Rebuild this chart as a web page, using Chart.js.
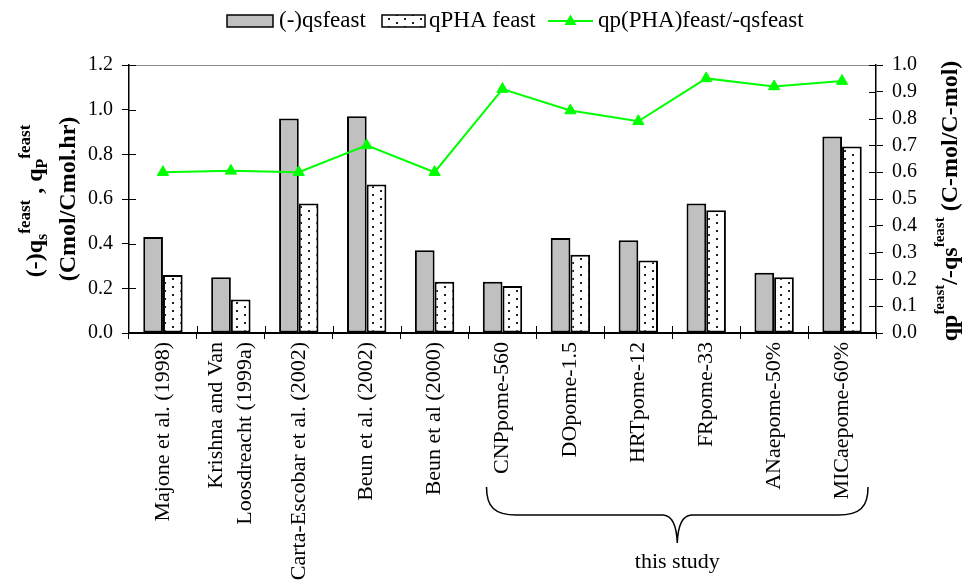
<!DOCTYPE html>
<html>
<head>
<meta charset="utf-8">
<script src="https://cdn.jsdelivr.net/npm/chart.js@4"></script>
<style>
  html, body { margin: 0; padding: 0; background: #fff; }
  #wrap { width: 964px; height: 580px; position: relative; }
</style>
</head>
<body>
<div id="wrap"><canvas id="c" width="964" height="580"></canvas></div>
<script>
// Categories (multi-line labels as arrays)
const categories = [
  ["Majone et al. (1998)"],
  ["Krishna and Van", "Loosdreacht (1999a)"],
  ["Carta-Escobar et al. (2002)"],
  ["Beun et al. (2002)"],
  ["Beun et al (2000)"],
  ["CNPpome-560"],
  ["DOpome-1.5"],
  ["HRTpome-12"],
  ["FRpome-33"],
  ["ANaepome-50%"],
  ["MICaepome-60%"]
];

// Specific uptake rate of substrate, Cmol/Cmol.hr
const qsFeast = [0.43, 0.25, 0.96, 0.97, 0.37, 0.23, 0.425, 0.415, 0.58, 0.27, 0.88];
// Specific PHA production rate, Cmol/Cmol.hr
const qphaFeast = [0.26, 0.15, 0.58, 0.665, 0.23, 0.21, 0.35, 0.325, 0.55, 0.25, 0.835];
// Yield qp/-qs, C-mol/C-mol
const yieldRatio = [0.60, 0.605, 0.60, 0.70, 0.60, 0.91, 0.83, 0.79, 0.95, 0.92, 0.94];

const leftTicks = [0, 0.2, 0.4, 0.6, 0.8, 1.0, 1.2];
const rightTicks = [0, 0.1, 0.2, 0.3, 0.4, 0.5, 0.6, 0.7, 0.8, 0.9, 1.0];

const seriesNames = ["(-)qsfeast", "qPHA feast", "qp(PHA)feast/-qsfeast"];
const studyGroupLabel = "this study";
const studyGroupRange = [5, 10];

const SERIF = '"Liberation Serif", "Times New Roman", serif';
const GREEN = '#00ff00';
const GREY = '#c0c0c0';

// Stippled fill for the PHA bars
function makeDotPattern() {
  const off = document.createElement('canvas');
  off.width = 16; off.height = 8;
  const g = off.getContext('2d');
  g.fillStyle = '#ffffff';
  g.fillRect(0, 0, 16, 8);
  g.fillStyle = '#222222';
  g.fillRect(4, 2, 2, 2);
  g.fillRect(12, 6, 2, 2);
  return document.getElementById('c').getContext('2d').createPattern(off, 'repeat');
}
const dotPattern = makeDotPattern();

// Draw a line of text made of groups; pieces in a group share a start position
function drawRich(ctx, groups, cx, baseY) {
  let total = 0;
  const widths = groups.map(g => {
    let w = 0;
    g.pieces.forEach(p => {
      ctx.font = 'bold ' + p.size + 'px ' + SERIF;
      w = Math.max(w, ctx.measureText(p.t).width);
    });
    w += (g.gap || 0);
    total += w;
    return w;
  });
  let x = cx - total / 2;
  groups.forEach((g, i) => {
    g.pieces.forEach(p => {
      ctx.font = 'bold ' + p.size + 'px ' + SERIF;
      ctx.fillText(p.t, x, baseY + (p.dy || 0));
    });
    x += widths[i];
  });
}

const decorations = {
  id: 'decorations',
  afterDraw(chart) {
    const ctx = chart.ctx;
    const ca = chart.chartArea;
    const xs = chart.scales.x, yl = chart.scales.y, yr = chart.scales.y1;
    ctx.save();

    // top frame line
    ctx.strokeStyle = '#8c8c8c';
    ctx.lineWidth = 1;
    ctx.beginPath();
    ctx.moveTo(ca.left, ca.top + 0.5);
    ctx.lineTo(ca.right, ca.top + 0.5);
    ctx.stroke();

    // inner halves of the tick marks
    ctx.strokeStyle = '#000';
    ctx.lineWidth = 1;
    ctx.beginPath();
    leftTicks.forEach(v => {
      const y = Math.round(yl.getPixelForValue(v)) + 0.5;
      ctx.moveTo(ca.left, y); ctx.lineTo(ca.left + 7, y);
    });
    rightTicks.forEach(v => {
      const y = Math.round(yr.getPixelForValue(v)) + 0.5;
      ctx.moveTo(ca.right - 7, y); ctx.lineTo(ca.right, y);
    });
    for (let i = 1; i < categories.length; i++) {
      const x = Math.round((xs.getPixelForValue(i - 1) + xs.getPixelForValue(i)) / 2) + 0.5;
      ctx.moveTo(x, ca.bottom - 7); ctx.lineTo(x, ca.bottom);
    }
    ctx.stroke();

    // category labels, rotated
    ctx.fillStyle = '#000';
    ctx.font = '22px ' + SERIF;
    ctx.textAlign = 'right';
    ctx.textBaseline = 'middle';
    categories.forEach((lines, i) => {
      const px = xs.getPixelForValue(i);
      ctx.save();
      ctx.translate(px, ca.bottom + 9);
      ctx.rotate(-Math.PI / 2);
      lines.forEach((ln, j) => ctx.fillText(ln, 0, (j - (lines.length - 1) / 2) * 29));
      ctx.restore();
    });

    // brace over the study group
    const L = xs.getPixelForValue(studyGroupRange[0]) - 16;
    const R = xs.getPixelForValue(studyGroupRange[1]) + 26;
    const M = (L + R) / 2;
    const yTop = 487, yMid = 515, yTip = 543;
    ctx.strokeStyle = '#000';
    ctx.lineWidth = 1.5;
    ctx.beginPath();
    ctx.moveTo(L, yTop);
    ctx.bezierCurveTo(L, yTop + 20, L + 8, yMid, L + 30, yMid);
    ctx.lineTo(M - 14, yMid);
    ctx.quadraticCurveTo(M - 1, yMid + 1, M, yTip);
    ctx.quadraticCurveTo(M + 1, yMid + 1, M + 14, yMid);
    ctx.lineTo(R - 30, yMid);
    ctx.bezierCurveTo(R - 8, yMid, R, yTop + 20, R, yTop);
    ctx.stroke();
    ctx.textAlign = 'center';
    ctx.textBaseline = 'alphabetic';
    ctx.font = '22px ' + SERIF;
    ctx.fillText(studyGroupLabel, M, 568);

    // legend
    ctx.textAlign = 'left';
    ctx.textBaseline = 'middle';
    ctx.font = '23px ' + SERIF;
    ctx.lineWidth = 1.5;
    ctx.strokeStyle = '#000';
    ctx.fillStyle = GREY;
    ctx.fillRect(227, 15, 46, 12);
    ctx.strokeRect(227, 15, 46, 12);
    ctx.fillStyle = '#000';
    ctx.fillText(seriesNames[0], 279, 21);
    ctx.fillStyle = dotPattern;
    ctx.fillRect(382, 15, 43, 12);
    ctx.strokeRect(382, 15, 43, 12);
    ctx.fillStyle = '#000';
    ctx.fillText(seriesNames[1], 429, 21);
    ctx.strokeStyle = GREEN;
    ctx.lineWidth = 2;
    ctx.beginPath();
    ctx.moveTo(548, 21); ctx.lineTo(593, 21);
    ctx.stroke();
    ctx.fillStyle = GREEN;
    ctx.beginPath();
    ctx.moveTo(570.5, 14.5); ctx.lineTo(576.5, 25); ctx.lineTo(564.5, 25);
    ctx.closePath(); ctx.fill();
    ctx.fillStyle = '#000';
    ctx.fillText(seriesNames[2], 598, 21);

    // axis titles
    ctx.textAlign = 'left';
    ctx.textBaseline = 'alphabetic';
    const cy = (ca.top + ca.bottom) / 2 + 2;
    ctx.save();
    ctx.rotate(-Math.PI / 2);
    // left title, line 1
    drawRich(ctx, [
      { pieces: [{ t: '(-)q', size: 24 }] },
      { pieces: [{ t: 's', size: 16, dy: 5 }] },
      { pieces: [{ t: 'feast', size: 17, dy: -12 }], gap: 6 },
      { pieces: [{ t: ', q', size: 24 }] },
      { pieces: [{ t: 'P', size: 16, dy: 5 }] },
      { pieces: [{ t: 'feast', size: 17, dy: -12 }] }
    ], -cy, 42);
    // left title, line 2
    drawRich(ctx, [{ pieces: [{ t: '(Cmol/Cmol.hr)', size: 24 }] }], -cy + 2, 75);
    // right title
    drawRich(ctx, [
      { pieces: [{ t: 'qp', size: 24 }] },
      { pieces: [{ t: 'feast', size: 15, dy: -13 }] },
      { pieces: [{ t: '/-qs', size: 24 }] },
      { pieces: [{ t: 'feast', size: 15, dy: -13 }] },
      { pieces: [{ t: ' (C-mol/C-mol)', size: 24 }] }
    ], -cy, 957);
    ctx.restore();

    ctx.restore();
  }
};

new Chart(document.getElementById('c'), {
  data: {
    labels: categories,
    datasets: [
      {
        type: 'line',
        label: seriesNames[2],
        data: yieldRatio,
        yAxisID: 'y1',
        borderColor: GREEN,
        borderWidth: 2,
        pointStyle: 'triangle',
        pointRadius: 6.5,
        pointBackgroundColor: GREEN,
        pointBorderColor: GREEN,
        pointBorderWidth: 1,
        tension: 0,
        order: 0
      },
      {
        type: 'bar',
        label: seriesNames[0],
        data: qsFeast,
        yAxisID: 'y',
        backgroundColor: GREY,
        borderColor: '#000',
        borderWidth: 2,
        borderSkipped: false,
        barPercentage: 1,
        categoryPercentage: 0.58,
        order: 1
      },
      {
        type: 'bar',
        label: seriesNames[1],
        data: qphaFeast,
        yAxisID: 'y',
        backgroundColor: dotPattern,
        borderColor: '#000',
        borderWidth: 2,
        borderSkipped: false,
        barPercentage: 1,
        categoryPercentage: 0.58,
        order: 1
      }
    ]
  },
  options: {
    responsive: false,
    animation: false,
    devicePixelRatio: 1,
    layout: { padding: { top: 65, left: 0, right: 0, bottom: 0 } },
    plugins: {
      legend: { display: false },
      title: { display: false },
      tooltip: { enabled: false }
    },
    scales: {
      x: {
        type: 'category',
        offset: true,
        grid: { display: true, offset: true, drawOnChartArea: false, drawTicks: true, tickLength: 6, color: '#000', lineWidth: 1 },
        border: { display: true, color: '#000', width: 2 },
        ticks: { display: false },
        afterFit(s) { s.height = 247; }
      },
      y: {
        position: 'left',
        min: 0, max: 1.2,
        afterBuildTicks(s) { s.ticks = leftTicks.map(value => ({ value })); },
        ticks: { autoSkip: false, callback: v => Number(v).toFixed(1), color: '#000', padding: 9, font: { family: SERIF, size: 20 } },
        grid: { drawOnChartArea: false, drawTicks: true, tickLength: 7, color: '#000', lineWidth: 1 },
        border: { display: true, color: '#000', width: 1.5 },
        afterFit(s) { s.width = 129; }
      },
      y1: {
        position: 'right',
        min: 0, max: 1.0,
        afterBuildTicks(s) { s.ticks = rightTicks.map(value => ({ value })); },
        ticks: { autoSkip: false, callback: v => Number(v).toFixed(1), color: '#000', padding: 9, font: { family: SERIF, size: 20 } },
        grid: { drawOnChartArea: false, drawTicks: true, tickLength: 7, color: '#000', lineWidth: 1 },
        border: { display: true, color: '#000', width: 1.5 },
        afterFit(s) { s.width = 88; }
      }
    }
  },
  plugins: [decorations]
});
</script>
</body>
</html>
